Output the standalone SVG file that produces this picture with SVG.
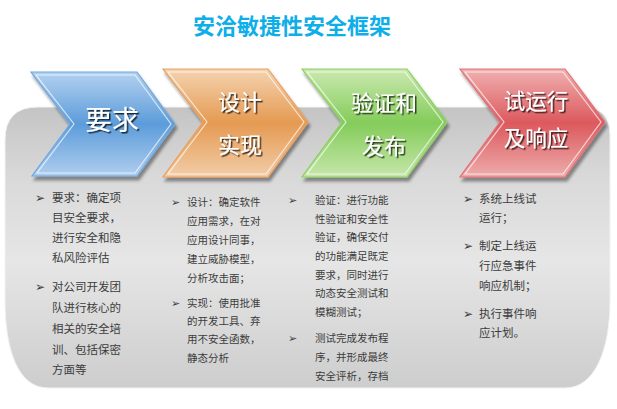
<svg xmlns="http://www.w3.org/2000/svg" width="617" height="409" viewBox="0 0 617 409">
<defs>
<linearGradient id="gPanel" x1="0" y1="0" x2="0" y2="1">
<stop offset="0" stop-color="#c4c4c4"/>
<stop offset="0.25" stop-color="#d9d9d9"/>
<stop offset="0.55" stop-color="#e6e6e6"/>
<stop offset="1" stop-color="#cdcdcd"/>
</linearGradient>
<linearGradient id="gBlue" x1="0" y1="0" x2="0" y2="1">
<stop offset="0" stop-color="#b4d1f0"/>
<stop offset="0.5" stop-color="#5c9cda"/>
<stop offset="1" stop-color="#b0ceee"/>
</linearGradient>
<linearGradient id="gOrange" x1="0" y1="0" x2="0" y2="1">
<stop offset="0" stop-color="#f4d3b0"/>
<stop offset="0.5" stop-color="#e59a52"/>
<stop offset="1" stop-color="#f2cda8"/>
</linearGradient>
<linearGradient id="gGreen" x1="0" y1="0" x2="0" y2="1">
<stop offset="0" stop-color="#cbe9b0"/>
<stop offset="0.5" stop-color="#84cc5a"/>
<stop offset="1" stop-color="#c6e6aa"/>
</linearGradient>
<linearGradient id="gRed" x1="0" y1="0" x2="0" y2="1">
<stop offset="0" stop-color="#f0b0b0"/>
<stop offset="0.5" stop-color="#dc595d"/>
<stop offset="1" stop-color="#eeacac"/>
</linearGradient>
<filter id="shadow" x="-10%" y="-10%" width="125%" height="130%">
<feDropShadow dx="2" dy="4" stdDeviation="1.5" flood-color="#000" flood-opacity="0.4"/>
</filter>
<filter id="tshadow" x="-10%" y="-10%" width="130%" height="140%">
<feDropShadow dx="1.5" dy="1.5" stdDeviation="0.7" flood-color="#000" flood-opacity="0.75"/>
</filter>
</defs>
<style>
.title{font-family:"Noto Sans CJK SC","Noto Sans",sans-serif;font-weight:bold;font-size:22px;fill:#0eaee8;text-anchor:middle}
.lbl{font-family:"Noto Sans CJK SC","Noto Sans",sans-serif;fill:#ffffff;text-anchor:middle;filter:url(#tshadow)}
.inner{fill:none;stroke:#ffffff;stroke-opacity:0.7;stroke-width:1.2}
.body{font-family:"Noto Sans CJK SC","Noto Sans",sans-serif;fill:#3c3c3c}
.b{font-family:"DejaVu Sans",sans-serif;fill:#3c3c3c}
.s1{font-size:11.5px}
.s2{font-size:10.5px}
</style>
<rect width="617" height="409" fill="#ffffff"/>
<g id="title"><text class="title" x="292" y="34">安洽敏捷性安全框架</text></g>
<g id="panel">
<path d="M5,140 Q5,107 38,107 L582,107 Q610,107 610,135 L610,300 C610,350 595,388 565,388 L48,388 C18,388 5,350 5,300 Z" fill="url(#gPanel)" stroke="#f2f2f2" stroke-width="1"/>
</g>
<g id="connectors"/>
<g id="node-requirement">
<polygon points="31,72 137,72 175,124 137,176 32,176 70,124" fill="url(#gBlue)" stroke="#6fa7e0" stroke-width="1.2" filter="url(#shadow)"/>
<polygon class="inner" points="36,75 135,75 171,124 135,173 37,173 74,124"/>
<text class="lbl" x="112" y="130" font-size="27">要求</text>
</g>
<g id="node-design">
<polygon points="163,69 268,69 308,122 268,177 163,177 203,122" fill="url(#gOrange)" stroke="#e8a060" stroke-width="1.2" filter="url(#shadow)"/>
<polygon class="inner" points="168,72 266,72 304,122 266,174 168,174 207,122"/>
<text class="lbl" x="240" y="110" font-size="22">设计</text>
<text class="lbl" x="240" y="153" font-size="22">实现</text>
</g>
<g id="node-verify">
<polygon points="302,69 407,69 447,122 407,177 302,177 342,122" fill="url(#gGreen)" stroke="#8ad062" stroke-width="1.2" filter="url(#shadow)"/>
<polygon class="inner" points="307,72 405,72 443,122 405,174 307,174 346,122"/>
<text class="lbl" x="384" y="111" font-size="22">验证和</text>
<text class="lbl" x="384" y="154" font-size="22">发布</text>
</g>
<g id="node-run">
<polygon points="460,69 565,69 605,122 565,177 460,177 500,122" fill="url(#gRed)" stroke="#e07074" stroke-width="1.2" filter="url(#shadow)"/>
<polygon class="inner" points="465,72 563,72 601,122 563,174 465,174 504,122"/>
<text class="lbl" x="536" y="109" font-size="21.5">试运行</text>
<text class="lbl" x="536" y="146" font-size="21.5">及响应</text>
</g>
<g id="text-requirement" class="body s1">
<text class="b" x="35" y="202" font-size="12">➢</text>
<text x="52" y="202">要求：确定项</text>
<text x="52" y="221.5">目安全要求，</text>
<text x="52" y="241.5">进行安全和隐</text>
<text x="52" y="262">私风险评估</text>
<text class="b" x="35" y="291" font-size="12">➢</text>
<text x="52" y="291">对公司开发团</text>
<text x="52" y="312">队进行核心的</text>
<text x="52" y="333">相关的安全培</text>
<text x="52" y="354">训、包括保密</text>
<text x="52" y="374">方面等</text>
</g>
<g id="text-design" class="body s2">
<text class="b" x="171" y="205.5" font-size="11">➢</text>
<text x="187" y="205.5">设计：确定软件</text>
<text x="187" y="224.5">应用需求，在对</text>
<text x="187" y="243.5">应用设计同事，</text>
<text x="187" y="262.5">建立威胁模型，</text>
<text x="187" y="281.5">分析攻击面；</text>
<text class="b" x="171" y="306.5" font-size="11">➢</text>
<text x="187" y="306.5">实现：使用批准</text>
<text x="187" y="324.5">的开发工具、弃</text>
<text x="187" y="342.5">用不安全函数，</text>
<text x="187" y="361.5">静态分析</text>
</g>
<g id="text-verify" class="body s2">
<text class="b" x="288" y="203.5" font-size="11">➢</text>
<text x="315" y="203.5">验证：进行功能</text>
<text x="315" y="222.5">性验证和安全性</text>
<text x="315" y="240.5">验证，确保交付</text>
<text x="315" y="259.5">的功能满足既定</text>
<text x="315" y="278.5">要求，同时进行</text>
<text x="315" y="296.5">动态安全测试和</text>
<text x="315" y="315.5">模糊测试；</text>
<text class="b" x="288" y="341.5" font-size="11">➢</text>
<text x="315" y="341.5">测试完成发布程</text>
<text x="315" y="360.5">序，并形成最终</text>
<text x="315" y="379.5">安全评析，存档</text>
</g>
<g id="text-run" class="body s1">
<text class="b" x="463" y="203" font-size="12">➢</text>
<text x="479" y="203">系统上线试</text>
<text x="479" y="222">运行；</text>
<text class="b" x="463" y="250" font-size="12">➢</text>
<text x="479" y="250">制定上线运</text>
<text x="479" y="270">行应急事件</text>
<text x="479" y="290">响应机制；</text>
<text class="b" x="463" y="318" font-size="12">➢</text>
<text x="479" y="318">执行事件响</text>
<text x="479" y="337">应计划。</text>
</g>
</svg>
